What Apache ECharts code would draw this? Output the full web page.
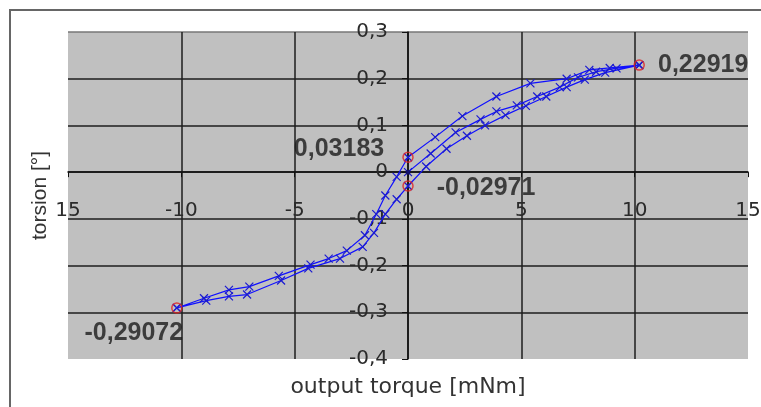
<!DOCTYPE html>
<html><head><meta charset="utf-8">
<script src="https://cdn.jsdelivr.net/npm/echarts@6/dist/echarts.min.js"></script>
<style>html,body{margin:0;padding:0;background:#fff}#c{width:761px;height:407px}</style>
</head><body><div id="c"></div>
<script>
// Virgin loading curve (from origin to max)
const virginX = [0, 1.0, 2.1, 3.2, 3.9, 4.8, 5.7, 6.7, 7.5, 8.3, 9.2, 10.2];
const virginY = [0, 0.040, 0.085, 0.113, 0.130, 0.143, 0.162, 0.182, 0.203, 0.215, 0.222, 0.22919];
// Unloading branch (max -> min)
const downX = [10.2, 8.9, 8.0, 7.0, 5.4, 3.9, 2.4, 1.2, 0, -0.5, -1.0, -1.4, -1.9, -2.7, -3.5, -4.3, -5.7, -7.0, -7.9, -9.0, -10.2];
const downY = [0.22919, 0.223, 0.219, 0.200, 0.190, 0.162, 0.120, 0.075, 0.03183, -0.010, -0.050, -0.090, -0.135, -0.168, -0.185, -0.198, -0.222, -0.245, -0.252, -0.270, -0.29072];
// Reloading branch (min -> max)
const upX = [-10.2, -8.9, -7.9, -7.1, -5.6, -4.4, -3.0, -2.0, -1.5, -1.0, -0.5, 0, 0.8, 1.7, 2.6, 3.4, 4.3, 5.2, 6.1, 7.0, 7.8, 8.7, 10.2];
const upY = [-0.29072, -0.275, -0.266, -0.262, -0.232, -0.206, -0.185, -0.160, -0.130, -0.090, -0.058, -0.02971, 0.012, 0.050, 0.078, 0.100, 0.122, 0.142, 0.162, 0.182, 0.198, 0.213, 0.22919];
// Highlighted points
const peakX = [10.2, -10.2, 0, 0];
const peakY = [0.22919, -0.29072, 0.03183, -0.02971];
const peakText = ['0,22919', '-0,29072', '0,03183', '-0,02971'];
// Axis ticks
const xTicks = [-15, -10, -5, 0, 5, 10, 15];
const xTickText = ['15', '-10', '-5', '0', '5', '10', '15'];
const yTicks = [-0.4, -0.3, -0.2, -0.1, 0, 0.1, 0.2, 0.3];

const loop = [];
virginX.forEach((x, i) => loop.push([x, virginY[i]]));
downX.forEach((x, i) => loop.push([x, downY[i]]));
upX.forEach((x, i) => loop.push([x, upY[i]]));

const labelOffsets = [[64, 0], [-43, 25], [-69, -8], [78, 2]];
const peaks = peakX.map((x, i) => ({
  value: [x, peakY[i]],
  label: { show: true, formatter: peakText[i], position: 'inside', offset: labelOffsets[i] }
}));

// Grid geometry (pixels) and where the zero lines fall inside it
const G = { left: 68, right: 13, top: 32, bottom: 48, W: 761, H: 407 };
const plotW = G.W - G.left - G.right, plotH = G.H - G.top - G.bottom;
const xmin = xTicks[0], xmax = xTicks[xTicks.length - 1];
const ymin = yTicks[0], ymax = yTicks[yTicks.length - 1];
const xAxisShift = -plotH * (0 - ymin) / (ymax - ymin);   // move x axis up to y=0
const yAxisShift = -plotW * (0 - xmin) / (xmax - xmin);   // move y axis right to x=0

const gridCol = '#1e1e1e', none = 'rgba(0,0,0,0)';
const chart = echarts.init(document.getElementById('c'), null, { renderer: 'canvas' });
chart.setOption({
  animation: false,
  backgroundColor: '#fff',
  graphic: [{
    type: 'polyline', silent: true, z: 100,
    shape: { points: [[10, 407], [10, 10], [761, 10]] },
    style: { stroke: '#666', lineWidth: 2, fill: null }
  }],
  grid: { left: G.left, right: G.right, top: G.top, bottom: G.bottom, show: true, backgroundColor: '#c0c0c0', borderWidth: 0,
          containLabel: false, outerBoundsMode: 'none' },
  xAxis: {
    type: 'value', min: xmin, max: xmax, interval: 5, position: 'bottom', offset: xAxisShift,
    axisLine: { onZero: false, lineStyle: { color: '#111', width: 1.5 } },
    axisTick: { show: true, length: 5, lineStyle: { color: '#111' } },
    axisLabel: {
      margin: 29, fontFamily: 'DejaVu Sans', fontSize: 20, color: '#2a2a2a',
      formatter: v => { const i = xTicks.indexOf(Math.round(v)); return i >= 0 ? xTickText[i] : ''; }
    },
    splitLine: { show: true, lineStyle: { color: [none, gridCol, gridCol, gridCol, gridCol, gridCol, none], width: 1.5 } },
    name: 'output torque [mNm]', nameLocation: 'middle', nameGap: 204,
    nameTextStyle: { fontFamily: 'DejaVu Sans', fontSize: 22, color: '#333' }
  },
  yAxis: {
    type: 'value', min: ymin, max: ymax, interval: 0.1, position: 'left', offset: yAxisShift,
    axisLine: { onZero: false, lineStyle: { color: '#111', width: 1.5 } },
    axisTick: { show: true, length: 6, lineStyle: { color: '#111' } },
    axisLabel: {
      margin: 20, fontFamily: 'DejaVu Sans', fontSize: 20, color: '#2a2a2a',
      formatter: v => String(+v.toFixed(1)).replace('.', ',')
    },
    splitLine: { show: true, lineStyle: { color: [none, gridCol, gridCol, gridCol, gridCol, gridCol, gridCol, '#777'], width: 1.5 } },
    name: 'torsion [°]', nameLocation: 'middle', nameGap: 357,
    nameTextStyle: { fontFamily: 'Liberation Sans', fontSize: 21, color: '#333' }
  },
  series: [{
    type: 'line', data: loop, z: 3,
    lineStyle: { color: '#1010ff', width: 1.2 },
    symbol: 'path://M0,0L10,10M10,0L0,10', symbolSize: 8, showAllSymbol: true,
    itemStyle: { color: none, borderColor: '#1a1ad0', borderWidth: 1.2 }
  }, {
    type: 'scatter', data: peaks, z: 4,
    symbol: 'circle', symbolSize: 10,
    itemStyle: { color: none, borderColor: '#e02020', borderWidth: 1.5 },
    label: { fontFamily: 'Liberation Sans', fontWeight: 'bold', fontSize: 25, color: '#1a1a1a' }
  }, {
    type: 'scatter', data: [[0, 0]], z: 4, symbol: 'circle', symbolSize: 5,
    itemStyle: { color: '#101060' }
  }]
});
</script></body></html>
